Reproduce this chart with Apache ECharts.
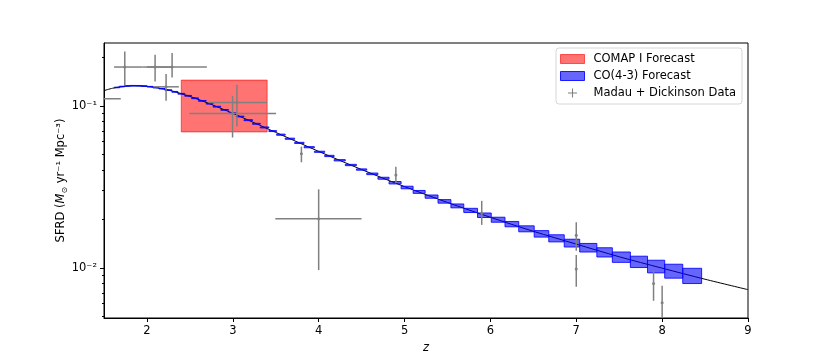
<!DOCTYPE html>
<html>
<head>
<meta charset="utf-8">
<script src="https://cdn.jsdelivr.net/npm/echarts@6/dist/echarts.min.js"></script>
<style>
html, body { margin: 0; padding: 0; background: #fff; }
#chart { width: 830px; height: 363px; }
</style>
</head>
<body>
<div id="chart"></div>
<script>
// axis ticks
const zTicks = [2, 3, 4, 5, 6, 7, 8, 9]
const sfrdMajor = [0.01, 0.1]
const sfrdMinor = [0.005, 0.006, 0.007, 0.008, 0.009, 0.02, 0.03, 0.04, 0.05, 0.06, 0.07, 0.08, 0.09, 0.2]
const sfrdRange = [0.0049, 0.244]

// Madau + Dickinson fit (black line)
const curveZ = [1.5, 1.6, 1.75, 1.85, 2.0, 2.25, 2.5, 2.75, 3.0, 3.25, 3.5, 4.0, 4.5, 5.0, 5.5, 6.0, 6.5, 7.0, 7.5, 8.0, 8.5, 9.0]
const curveSfrd = [0.1240, 0.1283, 0.1321, 0.1330, 0.1319, 0.1250, 0.1142, 0.1019, 0.0898, 0.0785, 0.0685, 0.0523, 0.0404, 0.0317, 0.0253, 0.0205, 0.0168, 0.0140, 0.0117, 0.00995, 0.0085, 0.00733]

// COMAP I forecast box
const comapZ = [2.4, 3.4]
const comapSfrd = [0.069, 0.144]

// CO(4-3) forecast boxes: z edges, centre value, total height (dex)
const coEdges = [1.62, 1.68, 1.74, 1.80, 1.87, 1.93, 2.00, 2.07, 2.14, 2.21,
  2.29, 2.36, 2.44, 2.52, 2.60, 2.69, 2.77, 2.86, 2.95, 3.04,
  3.13, 3.23, 3.32, 3.42, 3.51, 3.61, 3.72, 3.83, 3.95, 4.07,
  4.18, 4.31, 4.44, 4.56, 4.69, 4.82, 4.96, 5.10, 5.24, 5.39,
  5.54, 5.69, 5.85, 6.01, 6.17, 6.33, 6.51, 6.68, 6.86, 7.04,
  7.24, 7.42, 7.63, 7.83, 8.03, 8.24, 8.46]
const coMid = [0.1297, 0.1314, 0.1325, 0.1329, 0.1328, 0.1323, 0.1311, 0.1294, 0.1275, 0.1250,
  0.1219, 0.1186, 0.1152, 0.1113, 0.1072, 0.1030, 0.0987, 0.0943, 0.0900, 0.0858,
  0.0815, 0.0774, 0.0735, 0.0698, 0.0663, 0.0626, 0.0590, 0.0555, 0.0520, 0.0490,
  0.0461, 0.0431, 0.0404, 0.0380, 0.0357, 0.0335, 0.0313, 0.0294, 0.0275, 0.0257,
  0.0241, 0.0226, 0.0211, 0.0198, 0.0186, 0.0174, 0.0162, 0.0152, 0.0142, 0.0133,
  0.01245, 0.01163, 0.01088, 0.01018, 0.00953, 0.00891]
const coDex = [0.004, 0.004, 0.004, 0.004, 0.004, 0.004, 0.004, 0.004, 0.004, 0.004,
  0.005, 0.005, 0.005, 0.005, 0.005, 0.005, 0.005, 0.005, 0.005, 0.005,
  0.006, 0.006, 0.006, 0.006, 0.007, 0.007, 0.007, 0.007, 0.007, 0.008,
  0.008, 0.008, 0.008, 0.010, 0.012, 0.015, 0.016, 0.018, 0.020, 0.022,
  0.024, 0.026, 0.028, 0.031, 0.033, 0.037, 0.040, 0.044, 0.048, 0.053,
  0.057, 0.064, 0.070, 0.078, 0.086, 0.094]

// Madau + Dickinson data points
const mdZ = [1.742, 2.095, 2.293, 2.223, 1.4, 3.048, 2.997, 3.799, 4.0, 4.899, 5.899, 7.0, 7.0, 7.9, 8.0]
const mdZLo = [1.617, 1.95, 2.0, 2.075, 1.1, 2.717, 2.495, 3.799, 3.495, 4.899, 5.899, 7.0, 7.0, 7.9, 8.0]
const mdZHi = [1.95, 2.3, 2.698, 2.372, 1.695, 3.398, 3.504, 3.799, 4.499, 4.899, 5.899, 7.0, 7.0, 7.9, 8.0]
const mdSfrd = [0.1734, 0.1734, 0.1734, 0.1309, 0.1104, 0.1047, 0.0896, 0.0505, 0.0201, 0.0374, 0.0218, 0.0159, 0.00982, 0.00801, 0.00608]
const mdLo = [0.1334, 0.1412, 0.1495, 0.1073, 0.090, 0.0744, 0.0637, 0.0448, 0.00969, 0.0332, 0.0184, 0.01274, 0.00764, 0.00626, 0.0045]
const mdHi = [0.2164, 0.2065, 0.2115, 0.1569, 0.135, 0.1347, 0.1152, 0.0560, 0.0305, 0.0421, 0.0259, 0.0191, 0.0120, 0.00969, 0.00774]

const lg = Math.log10
const font = 'DejaVu Sans'
const sup = { '-': '⁻', '1': '¹', '2': '²', '3': '³' }

const curveData = curveZ.map((z, i) => [z, lg(curveSfrd[i])])
const coData = coMid.map((m, i) => [coEdges[i], coEdges[i + 1], lg(m) - coDex[i] / 2, lg(m) + coDex[i] / 2])
const comapData = [[comapZ[0], comapZ[1], lg(comapSfrd[0]), lg(comapSfrd[1])]]
const mdData = mdZ.map((z, i) => [z, lg(mdSfrd[i]), mdZLo[i], mdZHi[i], lg(mdLo[i]), lg(mdHi[i])])

function boxItem (fill, stroke) {
  return function (params, api) {
    const p0 = api.coord([api.value(0), api.value(3)])
    const p1 = api.coord([api.value(1), api.value(2)])
    return {
      type: 'rect',
      shape: { x: p0[0], y: p0[1], width: p1[0] - p0[0], height: p1[1] - p0[1] },
      style: { fill: fill, stroke: stroke, lineWidth: 1 }
    }
  }
}

function errItem (params, api) {
  const z = api.value(0)
  const v = api.value(1)
  const pc = api.coord([z, v])
  const pl = api.coord([api.value(2), v])
  const pr = api.coord([api.value(3), v])
  const pb = api.coord([z, api.value(4)])
  const pt = api.coord([z, api.value(5)])
  const style = { stroke: '#808080', lineWidth: 1.5 }
  return {
    type: 'group',
    children: [
      { type: 'line', shape: { x1: pl[0], y1: pl[1], x2: pr[0], y2: pr[1] }, style: style },
      { type: 'line', shape: { x1: pb[0], y1: pb[1], x2: pt[0], y2: pt[1] }, style: style },
      { type: 'circle', shape: { cx: pc[0], cy: pc[1], r: 1.5 }, style: { fill: '#808080' } }
    ]
  }
}

const redFill = 'rgba(255,0,0,0.55)'
const redEdge = 'rgba(255,0,0,0.6)'
const blueFill = 'rgba(0,0,255,0.6)'
const blueEdge = 'rgba(0,0,255,0.85)'

let myChart = echarts.init(document.getElementById('chart'))
let option = {
  animation: false,
  textStyle: { fontFamily: font },
  grid: {
    left: 104, right: 82, top: 43, bottom: 45,
    show: true, borderColor: '#000', borderWidth: 1, backgroundColor: 'transparent'
  },
  legend: {
    orient: 'vertical',
    right: 88,
    top: 48,
    itemWidth: 24,
    itemHeight: 9,
    itemGap: 3,
    padding: [4, 6, 4, 4],
    backgroundColor: 'rgba(255,255,255,0.8)',
    borderColor: '#d6d6d6',
    borderWidth: 1,
    borderRadius: 3,
    selectedMode: false,
    textStyle: { fontFamily: font, fontSize: 11.5, color: '#000', lineHeight: 14, padding: [0, 0, 0, 4] },
    data: [
      { name: 'COMAP I Forecast', icon: 'rect', itemStyle: { color: redFill, borderColor: redEdge, borderWidth: 1 } },
      { name: 'CO(4-3) Forecast', icon: 'rect', itemStyle: { color: blueFill, borderColor: blueEdge, borderWidth: 1 } },
      { name: 'Madau + Dickinson Data', icon: 'path://M0,4.4H10V5.6H0Z M4.4,0H5.6V10H4.4Z', itemStyle: { color: '#808080', borderWidth: 0 } }
    ]
  },
  xAxis: {
    type: 'value',
    min: 1.5,
    max: 9,
    name: 'z',
    nameLocation: 'middle',
    nameGap: 24,
    nameTextStyle: { fontFamily: font, fontSize: 11.5, fontStyle: 'italic', color: '#000' },
    axisLine: { lineStyle: { color: '#000', width: 1 } },
    axisTick: { length: 4, customValues: zTicks, lineStyle: { color: '#000' } },
    axisLabel: { customValues: zTicks, fontFamily: font, fontSize: 11.5, color: '#000', margin: 7 },
    splitLine: { show: false }
  },
  yAxis: [
    {
      type: 'value',
      min: lg(sfrdRange[0]),
      max: lg(sfrdRange[1]),
      name: '{a|SFRD (}{i|M}{s|⊙}{a| yr⁻¹ Mpc⁻³)}',
      nameLocation: 'middle',
      nameGap: 35,
      nameMoveOverlap: false,
      nameRotate: 90,
      nameTextStyle: {
        color: '#000',
        rich: {
          a: { fontFamily: font, fontSize: 11.5, color: '#000', lineHeight: 16, verticalAlign: 'middle' },
          i: { fontFamily: font, fontSize: 11.5, color: '#000', fontStyle: 'italic', lineHeight: 16, verticalAlign: 'middle' },
          s: { fontFamily: font, fontSize: 8, color: '#000', lineHeight: 16, verticalAlign: 'bottom' }
        }
      },
      axisLine: { show: true, lineStyle: { color: '#000', width: 1 } },
      axisTick: { show: true, length: 4, customValues: sfrdMajor.map(lg), lineStyle: { color: '#000' } },
      axisLabel: {
        customValues: sfrdMajor.map(lg),
        fontFamily: font,
        fontSize: 11.5,
        color: '#000',
        margin: 7,
        formatter: function (v) {
          return '10' + String(Math.round(v)).split('').map(c => sup[c]).join('')
        }
      },
      splitLine: { show: false }
    },
    {
      type: 'value',
      position: 'left',
      min: lg(sfrdRange[0]),
      max: lg(sfrdRange[1]),
      axisLine: { show: false },
      axisTick: { show: true, length: 2, customValues: sfrdMinor.map(lg), lineStyle: { color: '#000' } },
      axisLabel: { show: false },
      splitLine: { show: false }
    }
  ],
  series: [
    {
      name: 'COMAP I Forecast',
      type: 'custom',
      z: 1,
      clip: true,
      itemStyle: { color: redFill },
      renderItem: boxItem(redFill, redEdge),
      data: comapData
    },
    {
      name: 'SFRD fit',
      type: 'line',
      z: 2,
      clip: true,
      smooth: 0.3,
      showSymbol: false,
      lineStyle: { color: '#000', width: 1 },
      data: curveData
    },
    {
      name: 'CO(4-3) Forecast',
      type: 'custom',
      z: 3,
      clip: true,
      itemStyle: { color: blueFill },
      renderItem: boxItem(blueFill, blueEdge),
      data: coData
    },
    {
      name: 'Madau + Dickinson Data',
      type: 'custom',
      z: 4,
      clip: true,
      itemStyle: { color: '#808080' },
      renderItem: errItem,
      data: mdData
    }
  ]
}
myChart.setOption(option, true)
</script>
</body>
</html>
